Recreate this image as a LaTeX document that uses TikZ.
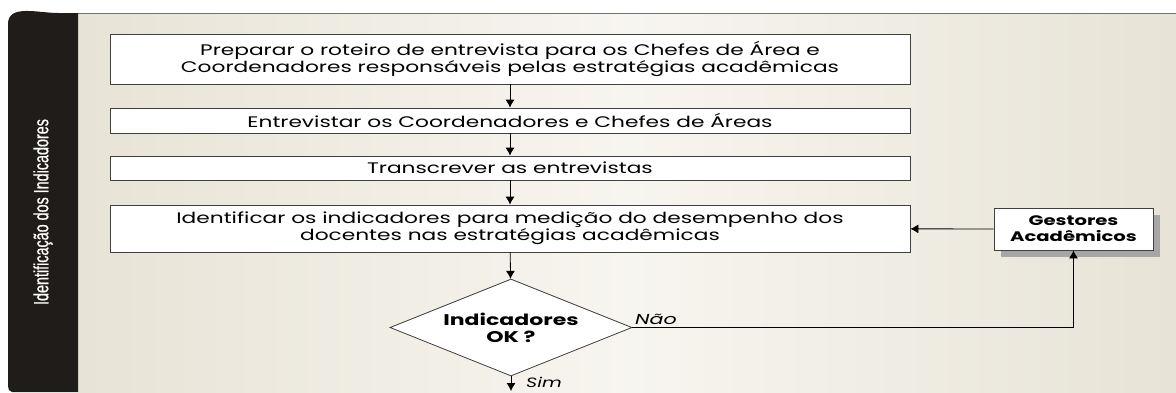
\documentclass[tikz,border=0pt]{standalone}
\usepackage{fontspec}
\setmainfont{Poppins}[FakeStretch=1.42]
\newfontfamily\narrowfont[FakeStretch=0.7, FakeBold=0.6]{Liberation Sans}
\usetikzlibrary{arrows.meta, shapes.geometric}

\definecolor{faixa}{HTML}{201C19}
\definecolor{bege}{HTML}{E7E3D6}
\definecolor{begeclaro}{HTML}{F7F5EF}

\begin{document}
\begin{tikzpicture}[x=1pt, y=-1pt,
    etapa/.style={draw=black!75, fill=white, line width=0.8pt, minimum width=800pt, align=center, inner sep=0pt, font=\fontsize{15.3}{17}\selectfont},
    seta/.style={-{Latex[length=8pt, width=9pt]}, line width=0.8pt},
    decisao/.style={diamond, draw=black!75, fill=white, line width=0.8pt, aspect=2.5, minimum width=242pt, minimum height=97pt, inner sep=0pt, align=center, font=\fontsize{15.5}{17}\selectfont\bfseries}]
    \useasboundingbox (0,0) rectangle (1176,392);
    \shade[left color=bege, right color=bege, middle color=begeclaro] (78,13) rectangle (1176,392);
    \draw[black!55, line width=0.8pt] (78,13) -- (1176,13);
    \fill[faixa] (78,13) -- (78,392) -- (12,392) to[out=180, in=-90] (8,386) -- (8,24) to[out=90, in=180] (58,13) -- cycle;
    \node[rotate=90, text=white, font=\narrowfont\fontsize{20.5}{22}\selectfont] (titulo) at (43,212) {Identificação dos Indicadores};

    \node[etapa, minimum height=50pt] (prep) at (510,59) {Preparar o roteiro de entrevista para os Chefes de Área e\\Coordenadores responsáveis pelas estratégias acadêmicas};
    \node[etapa, minimum height=25pt] (entrev) at (510,120.5) {Entrevistar os Coordenadores e Chefes de Áreas};
    \node[etapa, minimum height=24pt] (transc) at (510,168) {Transcrever as entrevistas};
    \node[etapa, minimum height=47pt] (ident) at (510,228.5) {Identificar os indicadores para medição do desempenho dos\\docentes nas estratégias acadêmicas};
    \node[decisao] (ok) at (511,327.5) {Indicadores\\OK ?};
    \fill[black!35] (1001,215) rectangle (1160,257);
    \node[draw=black!75, fill=white, line width=0.8pt, minimum width=159pt, minimum height=42pt, inner sep=0pt, align=center, font=\fontsize{13.8}{16}\selectfont\bfseries] (gestores) at (1073.5,229) {Gestores\\Acadêmicos};
    \coordinate (fim) at (511,391);
    \coordinate (canto) at (1073.5,327.5);

    \draw[seta] (prep) -- (entrev);
    \draw[seta] (entrev) -- (transc);
    \draw[seta] (transc) -- (ident);
    \draw[seta] (ident) -- (ok);
    \draw[seta] (gestores) -- (ident);
    \draw[seta] (ok.east) -- (canto) -- (gestores);
    \draw[seta] (ok.south) -- (fim);
    \node[anchor=south west, inner sep=1pt, font=\fontsize{14.5}{16}\selectfont\itshape] (nao) at (634,326) {Não};
    \node[anchor=west, inner sep=1pt, font=\fontsize{13.5}{15}\selectfont\itshape] (sim) at (525,382) {Sim};
\end{tikzpicture}
\end{document}
